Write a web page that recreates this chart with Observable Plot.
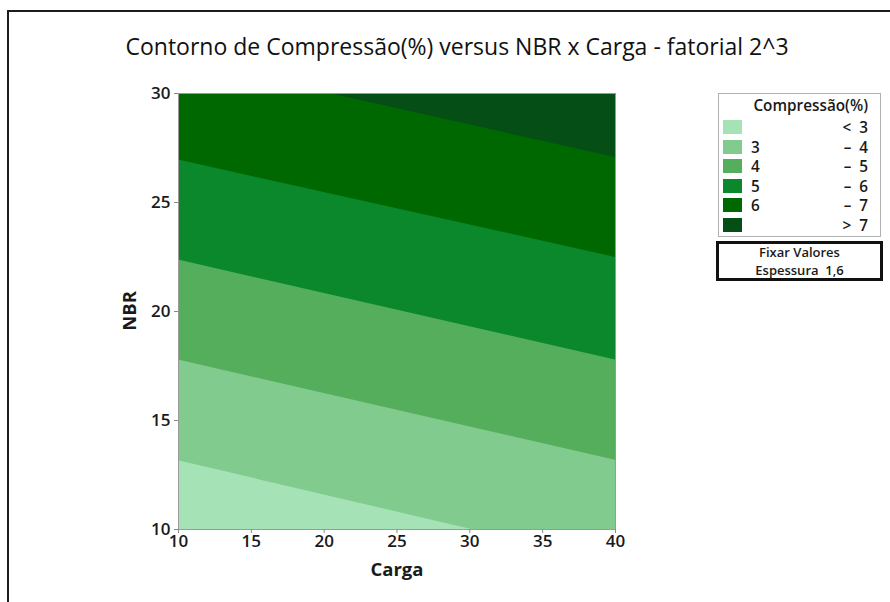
<!DOCTYPE html>
<html><head><meta charset="utf-8">
<script src="https://cdn.jsdelivr.net/npm/d3@7"></script>
<script src="https://cdn.jsdelivr.net/npm/@observablehq/plot@0.6"></script>
<style>
body{margin:0;background:#fff;}
#wrap{position:relative;width:890px;height:602px;overflow:hidden;font-family:"Open Sans",sans-serif;color:#1a1a1a;background:#fff;}
#chart{position:absolute;left:0;top:0;}
.bl{position:absolute;background:#1c1c1c;}
#title{position:absolute;left:457px;top:31px;transform:translateX(-50%);white-space:nowrap;font-size:23px;font-weight:400;color:#111;line-height:30px;}
#xlab{position:absolute;left:397px;top:556px;transform:translateX(-50%);font-size:18.5px;font-weight:700;}
#ylab{position:absolute;left:128px;top:311px;transform:translate(-50%,-50%) rotate(-90deg);font-size:18.5px;font-weight:700;}
#legend{position:absolute;left:718px;top:93px;width:163px;height:144px;border:1px solid #b0b0b0;box-sizing:border-box;font-size:15.3px;font-weight:600;line-height:18px;}
#legend .lt{position:absolute;right:12px;top:2px;}
#legend .row{position:absolute;left:0;width:100%;height:14px;}
#legend .sw{position:absolute;left:4px;top:0;width:19px;height:14px;}
#legend .lo{position:absolute;left:32px;top:-2px;}
#legend .hi{position:absolute;right:12px;top:-2px;white-space:pre;}
#fix{position:absolute;left:716px;top:241px;width:167px;height:40px;border:3px solid #111;box-sizing:border-box;font-size:13px;font-weight:600;}
#fix div{position:absolute;left:0;width:100%;text-align:center;height:18px;line-height:18px;}
</style>
</head><body>
<div id="wrap">
  <div id="chart"></div>
  <div class="bl" style="left:7px;top:10px;width:2px;height:592px;"></div>
  <div class="bl" style="left:7px;top:10px;width:883px;height:2px;"></div>
  <div id="title">Contorno de Compressão(%) versus NBR x Carga - fatorial 2^3</div>
  <div id="xlab">Carga</div>
  <div id="ylab">NBR</div>
  <div id="legend"></div>
  <div id="fix"><div style="top:-1px">Fixar Valores</div><div style="top:17px">Espessura&nbsp; 1,6</div></div>
</div>
<script>
// ---- data ----
const cargaEnds = [10, 40];                       // Carga at the left and right edges
const contourLevels = [3, 4, 5, 6, 7];            // Compressão(%) contour levels
const nbrAtCarga10 = [13.15, 17.77, 22.36, 26.95, 31.55]; // NBR of each contour line at Carga = 10
const nbrAtCarga40 = [8.45, 13.18, 17.77, 22.48, 27.06];  // NBR of each contour line at Carga = 40
const bandColors = ["#a5e3b7", "#80cb8d", "#54ae5c", "#0a882b", "#006800", "#054f17"];
const bandLow = ["", "3", "4", "5", "6", ""];
const bandHigh = ["<  3", "–  4", "–  5", "–  6", "–  7", ">  7"];
const xTicks = [10, 15, 20, 25, 30, 35, 40];
const yTicks = [10, 15, 20, 25, 30];
const xDomain = [10, 40];
const yDomain = [10, 30];

// each band is painted from its lower contour up to the top of the frame; later bands overlay
const bandMarks = bandColors.map((c, b) => {
  const rows = cargaEnds.map((carga, i) => ({
    carga,
    lo: b === 0 ? yDomain[0] : [nbrAtCarga10, nbrAtCarga40][i][b - 1],
    hi: yDomain[1]
  }));
  return Plot.areaY(rows, {x: "carga", y1: "lo", y2: "hi", fill: c, clip: true});
});

const chart = Plot.plot({
  width: 890, height: 602,
  marginLeft: 178, marginRight: 275, marginTop: 93, marginBottom: 73,
  x: {domain: xDomain, label: null},
  y: {domain: yDomain, label: null},
  style: {fontFamily: "Open Sans", color: "#1a1a1a", background: "transparent", overflow: "visible"},
  marks: [
    ...bandMarks,
    Plot.frame({stroke: "#9a9a9a", strokeWidth: 1}),
    Plot.axisX({ticks: xTicks, tickSize: 4, tickPadding: 1, stroke: "#8a8a8a", fontSize: 17, fontWeight: 600, fill: "#1a1a1a", label: null}),
    Plot.axisY({ticks: yTicks, tickSize: 4, tickPadding: 4, stroke: "#8a8a8a", fontSize: 17, fontWeight: 600, fill: "#1a1a1a", label: null})
  ]
});
document.getElementById("chart").appendChild(chart);

// legend
const lg = document.getElementById("legend");
const t = document.createElement("div"); t.className = "lt"; t.textContent = "Compressão(%)"; lg.appendChild(t);
bandColors.forEach((c, i) => {
  const r = document.createElement("div"); r.className = "row"; r.style.top = (26 + i * 19.6) + "px";
  const s = document.createElement("div"); s.className = "sw"; s.style.background = c; r.appendChild(s);
  const lo = document.createElement("div"); lo.className = "lo"; lo.textContent = bandLow[i]; r.appendChild(lo);
  const hi = document.createElement("div"); hi.className = "hi"; hi.textContent = bandHigh[i]; r.appendChild(hi);
  lg.appendChild(r);
});
</script>
</body></html>
